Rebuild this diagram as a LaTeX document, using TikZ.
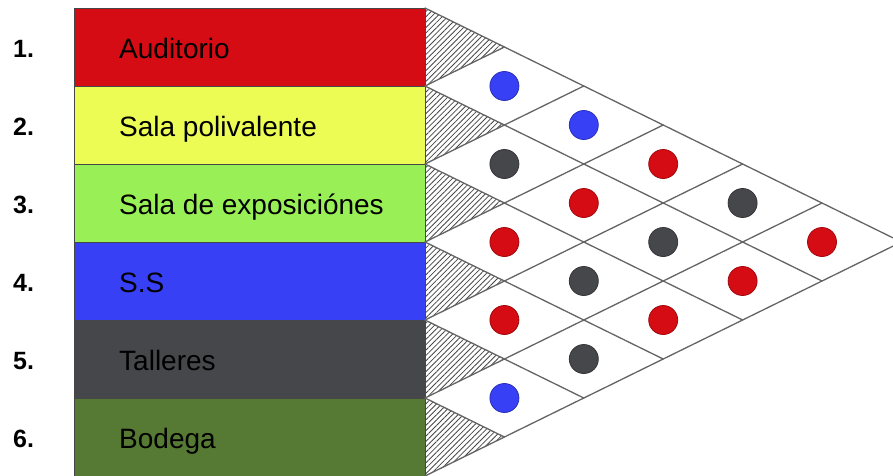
\documentclass[tikz,border=0pt]{standalone}
\usepackage{fontspec}
\setmainfont{Liberation Sans}
\usetikzlibrary{patterns.meta}
\definecolor{cRed}{RGB}{213,12,20}
\definecolor{cYellow}{RGB}{236,252,84}
\definecolor{cLgreen}{RGB}{152,240,86}
\definecolor{cBlue}{RGB}{55,64,245}
\definecolor{cGray}{RGB}{70,71,75}
\definecolor{cDgreen}{RGB}{86,122,52}
\definecolor{cLine}{RGB}{100,100,100}
\definecolor{cHatch}{RGB}{70,70,70}
\begin{document}
\begin{tikzpicture}[x=1pt,y=-1pt,
  rowbox/.style={draw=cLine!70!black, line width=0.6pt},
  lbl/.style={font=\fontsize{28}{32}\selectfont, text=black, inner sep=0pt, anchor=base west},
  num/.style={font=\fontsize{25}{28}\selectfont\bfseries, text=black, inner sep=0pt, anchor=base west},
  gridline/.style={draw=cLine, line width=1.3pt},
  hatchfill/.style={pattern={Lines[angle=45,distance=3.8pt,line width=0.8pt]}, pattern color=cHatch},
  dot/.style={circle, minimum size=29pt, inner sep=0pt, line width=0.8pt}]
\useasboundingbox (0,0) rectangle (893,475);
\clip (0,0) rectangle (893,475);
\def\h{79.4}
% rows
\foreach \i/\c/\t in {1/cRed/Auditorio, 2/cYellow/Sala polivalente, 3/cLgreen/Sala de exposiciónes, 4/cBlue/S.S, 5/cGray/Talleres, 6/cDgreen/Bodega} {
  \pgfmathsetmacro\rtop{8+78*(\i-1)}
  \path[rowbox, fill=\c] (74,\rtop) rectangle ++(351,78);
  \node[lbl] (name\i) at (119,\rtop+50) {\t};
  \node[num] (num\i) at (13,\rtop+49) {\i.};
  \fill[hatchfill] (425,\rtop) -- ({425+\h},\rtop+39) -- (425,\rtop+78) -- cycle;
}
% grid
\foreach \k in {0,...,6} {
  \coordinate (B\k) at (425,{8+78*\k});
  \coordinate (T\k) at ({425+\k*\h},{8+39*\k});
  \coordinate (D\k) at ({425+(6-\k)*\h},{8+78*\k+39*(6-\k)});
}
\foreach \k in {1,...,6} \draw[gridline, line cap=round] (B\k) -- (T\k);
\foreach \k in {0,...,5} \draw[gridline, line cap=round] (B\k) -- (D\k);
% dots
\foreach \i/\j/\c in {1/2/cBlue, 1/3/cBlue, 1/4/cRed, 1/5/cGray, 1/6/cRed,
  2/3/cGray, 2/4/cRed, 2/5/cGray, 2/6/cRed,
  3/4/cRed, 3/5/cGray, 3/6/cRed,
  4/5/cRed, 4/6/cGray, 5/6/cBlue} {
  \node[dot, fill=\c, draw=\c!75!black] (p\i\j) at ({425+\h*(\j-\i)},{47+39*(\i-1)+39*(\j-1)}) {};
}
\end{tikzpicture}
\end{document}
